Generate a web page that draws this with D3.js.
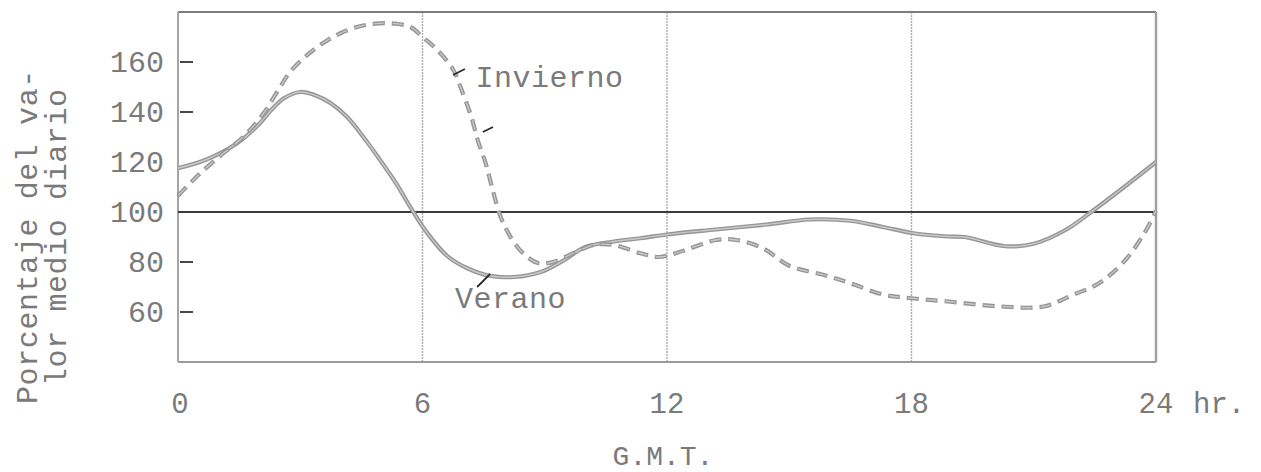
<!DOCTYPE html>
<html>
<head>
<meta charset="utf-8">
<script src="https://cdn.jsdelivr.net/npm/d3@7"></script>
<style>
  html, body { margin: 0; padding: 0; background: #fff; }
  svg { display: block; }
  text { font-family: "Liberation Mono", "DejaVu Sans Mono", monospace; fill: #7a7a7a; }
</style>
</head>
<body>
<svg id="chart" width="1261" height="472"></svg>
<script>
// Hourly variation, percent of the daily mean value (G.M.T. hours)
const veranoHours = [0, 0.7, 1.45, 1.95, 2.3, 2.6, 3.0, 3.35, 3.75, 4.15, 4.55, 4.95, 5.35, 5.7, 6.1, 6.6, 7.1, 7.65, 8.25, 8.9, 9.45, 10.0, 10.7, 11.35, 12.0, 13.2, 14.45, 15.5, 16.5, 17.3, 18.05, 18.9, 19.3, 20.3, 21.0, 21.8, 22.45, 23.3, 24];
const veranoValues = [117.5, 121, 127.5, 134.5, 141, 145.5, 148, 146.8, 143.5, 138, 130, 121, 111.5, 102, 92, 82.5, 77.5, 74.5, 74, 76, 80.5, 86, 88.2, 89.5, 91, 93, 95, 97, 96.5, 94, 91.5, 90.2, 90, 86.3, 87.3, 93, 100.5, 111, 120];

const inviernoHours = [0, 0.45, 1.0, 1.6, 2.1, 2.45, 2.75, 3.15, 3.6, 4.05, 4.6, 5.2, 5.7, 6.0, 6.35, 6.75, 7.0, 7.2, 7.35, 7.55, 7.72, 7.92, 8.2, 8.5, 8.85, 9.2, 9.7, 10.2, 10.7, 11.35, 11.8, 12.4, 13.2, 13.7, 14.35, 15.0, 15.85, 16.5, 17.3, 18.0, 18.9, 20.2, 21.25, 21.95, 22.6, 23.25, 23.75, 24];
const inviernoValues = [106.5, 114, 122, 130, 139.5, 148.5, 156, 162.5, 168, 172, 174.8, 175.5, 174, 170, 165, 157, 147, 138, 129, 119.5, 109, 98, 89, 83, 79.5, 80, 83.5, 86.8, 86.8, 83.5, 82, 84.5, 88.8, 88.8, 85.5, 78.5, 74.8, 71.5, 67, 65.5, 64.2, 62.2, 62.2, 66.8, 71.5, 80.8, 92.5, 100.5];

const yTickLabels = [160, 140, 120, 100, 80, 60];
const yTickMarks = [160, 140, 80, 60];
const xTickValues = [0, 6, 12, 18, 24];
const gridHours = [6, 12, 18];
const referenceValue = 100;

const seriesNames = ["Verano", "Invierno"];
const yTitleLines = ["Porcentaje del va-", "lor medio diario"];
const xTitle = "G.M.T.";
const xUnit = "hr.";

// label anchors in data units [hour, value]
const labelAnchors = { Verano: [6.8, 61.6], Invierno: [7.3, 150] };
const leaderLines = [
  [[7.34, 70], [7.66, 75.2]],
  [[6.75, 154.8], [7.04, 157.2]],
  [[7.48, 132], [7.73, 134]]
];

const svg = d3.select("#chart");
const x = d3.scaleLinear().domain([0, 24]).range([178, 1156]);
const y = d3.scaleLinear().domain([40, 180]).range([362, 12]);

const g = svg.append("g");

// vertical grid lines
g.selectAll("line.grid").data(gridHours).join("line")
  .attr("class", "grid")
  .attr("x1", d => x(d)).attr("x2", d => x(d))
  .attr("y1", y(180)).attr("y2", y(40))
  .attr("stroke", "#ababab").attr("stroke-width", 1.4)
  .attr("stroke-dasharray", "2,1");

// frame
g.append("line").attr("x1", x(0)).attr("x2", x(24)).attr("y1", y(180)).attr("y2", y(180))
  .attr("stroke", "#7d7d7d").attr("stroke-width", 2);
g.append("line").attr("x1", x(0)).attr("x2", x(24)).attr("y1", y(40)).attr("y2", y(40))
  .attr("stroke", "#9a9a9a").attr("stroke-width", 2.2);
g.append("line").attr("x1", x(0)).attr("x2", x(0)).attr("y1", y(180)).attr("y2", y(40))
  .attr("stroke", "#a5a5a5").attr("stroke-width", 2);
g.append("line").attr("x1", x(24)).attr("x2", x(24)).attr("y1", y(180)).attr("y2", y(40))
  .attr("stroke", "#a0a0a0").attr("stroke-width", 2.4);

// 100 % reference line
g.append("line")
  .attr("x1", x(0)).attr("x2", x(24))
  .attr("y1", y(referenceValue)).attr("y2", y(referenceValue))
  .attr("stroke", "#3c3c3c").attr("stroke-width", 1.8);

// y tick marks
g.selectAll("line.ytick").data(yTickMarks).join("line")
  .attr("class", "ytick")
  .attr("x1", x(0) + 2).attr("x2", x(0) + 15)
  .attr("y1", d => y(d)).attr("y2", d => y(d))
  .attr("stroke", "#333").attr("stroke-width", 1.8);

// y tick labels
g.selectAll("text.ylab").data(yTickLabels).join("text")
  .attr("class", "ylab")
  .attr("x", 164).attr("y", d => y(d) + 10)
  .attr("text-anchor", "end")
  .attr("font-size", 30)
  .text(d => d);

// x tick labels
g.selectAll("text.xlab").data(xTickValues).join("text")
  .attr("class", "xlab")
  .attr("x", d => x(d) + (d === 0 ? 2 : 0)).attr("y", 413)
  .attr("text-anchor", "middle")
  .attr("font-size", 29)
  .text(d => d);
g.append("text").attr("x", x(24) + 37).attr("y", 413).attr("font-size", 29).text(xUnit);

// axis titles
g.append("text").attr("x", x(12) - 4).attr("y", 465).attr("text-anchor", "middle")
  .attr("font-size", 28).text(xTitle);
g.selectAll("text.ytitle").data(yTitleLines).join("text")
  .attr("class", "ytitle")
  .attr("transform", (d, i) => `translate(${[37, 66][i]},${[404, 386][i]}) rotate(-90)`)
  .attr("font-size", 30)
  .attr("letter-spacing", 0.6)
  .text(d => d);

// curves
const line = d3.line().x(d => x(d[0])).y(d => y(d[1])).curve(d3.curveCatmullRom.alpha(0.5));
const verano = d3.zip(veranoHours, veranoValues);
const invierno = d3.zip(inviernoHours, inviernoValues);

g.append("path").datum(verano).attr("d", line)
  .attr("fill", "none").attr("stroke", "#959595").attr("stroke-width", 4.2);
g.append("path").datum(verano).attr("d", line)
  .attr("fill", "none").attr("stroke", "#c9c9c9").attr("stroke-width", 1.4);

g.append("path").datum(invierno).attr("d", line)
  .attr("fill", "none").attr("stroke", "#959595").attr("stroke-width", 4.2)
  .attr("stroke-dasharray", "12,7");
g.append("path").datum(invierno).attr("d", line)
  .attr("fill", "none").attr("stroke", "#cacaca").attr("stroke-width", 1.3)
  .attr("stroke-dasharray", "0,1,10,8");

// leaders and series labels
g.selectAll("line.leader").data(leaderLines).join("line")
  .attr("class", "leader")
  .attr("x1", d => x(d[0][0])).attr("y1", d => y(d[0][1]))
  .attr("x2", d => x(d[1][0])).attr("y2", d => y(d[1][1]))
  .attr("stroke", "#2a2a2a").attr("stroke-width", 1.8);

g.selectAll("text.series").data(seriesNames).join("text")
  .attr("class", "series")
  .attr("x", d => x(labelAnchors[d][0])).attr("y", d => y(labelAnchors[d][1]))
  .attr("font-size", 30)
  .attr("letter-spacing", 0.5)
  .text(d => d);
</script>
</body>
</html>
